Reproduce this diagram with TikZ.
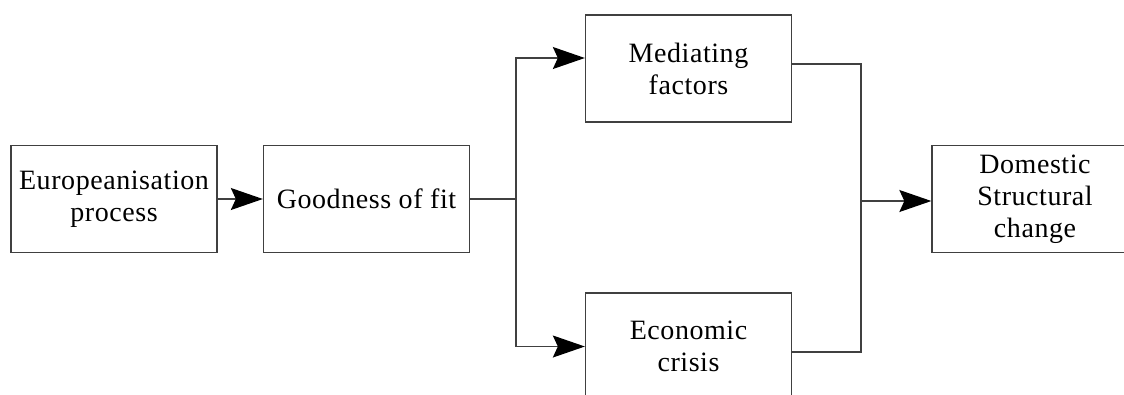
\documentclass[tikz,border=0pt]{standalone}
\usepackage{fontspec}
\setmainfont[LetterSpace=2]{Liberation Serif}
\usetikzlibrary{arrows.meta}
\definecolor{linegray}{HTML}{404040}
\tikzset{
  box/.style={draw=linegray, line width=1.3bp, fill=white, minimum width=206bp, minimum height=107bp,
    align=center, inner sep=0pt, font=\fontsize{28bp}{32bp}\selectfont},
  conn/.style={draw=linegray, line width=1.3bp},
  arr/.style={conn, -{Stealth[length=32bp,width=22bp,inset=5bp,black]}}
}
\begin{document}
\begin{tikzpicture}[x=1bp,y=-1bp]
\useasboundingbox (0,0) rectangle (1124,394);
\clip (0,0) rectangle (1124,394);
\fill[white] (0,0) rectangle (1124,394);
\node[box] (euro) at (114,199) {Europeanisation\\process};
\node[box] (fit) at (366.5,199) {Goodness of fit};
\node[box] (med) at (688.5,68.5) {Mediating\\factors};
\node[box] (eco) at (688.5,346.5) {Economic\\crisis};
\node[box] (dom) at (1035,199) {Domestic\\Structural\\change};
\draw[arr] (euro.east) -- (fit.west);
\coordinate (split) at (516,199);
\coordinate (join) at (861,201);
\draw[conn] (fit.east) -- (split);
\draw[arr] (split) |- ([yshift=10.5bp]med.west);
\draw[arr] (split) |- (eco.west);
\draw[conn] ([yshift=4.5bp]med.east) -| (join) |- ([yshift=-5.5bp]eco.east);
\draw[arr] (join) -- (join -| dom.west);
\end{tikzpicture}
\end{document}
